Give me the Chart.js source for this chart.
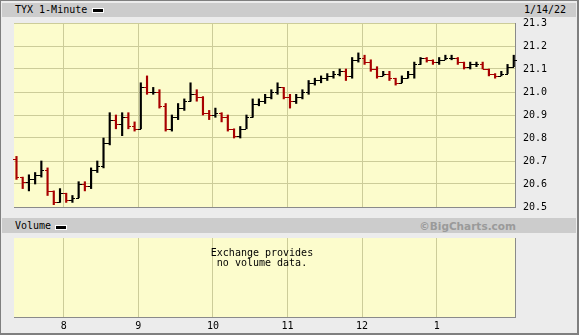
<!DOCTYPE html>
<html>
<head>
<meta charset="utf-8">
<script src="https://cdn.jsdelivr.net/npm/chart.js@4.4.1/dist/chart.umd.min.js"></script>
<style>
  body { margin: 0; background: #fff; }
  #wrap { position: relative; width: 579px; height: 335px; background: #ececec; overflow: hidden;
          font: 10px "DejaVu Sans Mono", monospace; color: #000; }
  #frame { position: absolute; left: 0; top: 0; width: 579px; height: 335px; box-sizing: border-box;
           border: 1px solid #7f7f7f; border-right-width: 2px; border-bottom-width: 2px; pointer-events: none; }
  .band { position: absolute; left: 2px; width: 574px; background: #cccccc; }
  .lbl { position: absolute; white-space: pre; line-height: 14px; }
  .key { position: absolute; width: 10px; height: 3px; background: #000; border: 1px solid #fff; }
  canvas { position: absolute; left: 0; }
  #novol { position: absolute; left: 162px; width: 200px; top: 248px; text-align: center; line-height: 10px; white-space: pre; }
</style>
</head>
<body>
<div id="wrap">
  <canvas id="price" width="579" height="221" style="top:0"></canvas>
  <canvas id="volume" width="579" height="99" style="top:236px"></canvas>

  <div class="band" style="top:3px;height:14px"></div>
  <div class="lbl" style="left:15px;top:3px">TYX 1-Minute</div>
  <div class="key" style="left:92px;top:8px"></div>
  <div class="lbl" style="left:524px;top:3px">1/14/22</div>

  <div class="band" style="top:218px;height:15px"></div>
  <div class="lbl" style="left:15px;top:219px">Volume</div>
  <div class="key" style="left:55px;top:225px"></div>
  <div class="lbl" style="right:63px;top:219px;font:bold 10.5px 'DejaVu Sans',sans-serif;color:#9a9a9a;line-height:14px">©BigCharts.com</div>

  <div id="novol">Exchange provides
no volume data.</div>
  <div id="frame"></div>
</div>
<script>
// minutes since midnight, one bar per 5 minutes
const times = [442,447,452,457,462,467,472,477,482,487,492,497,502,507,512,517,522,527,532,537,
  542,547,552,557,562,567,572,577,582,587,592,597,602,607,612,617,622,627,632,637,
  642,647,652,657,662,667,672,677,682,687,692,697,702,707,712,717,722,727,732,737,
  742,747,752,757,762,767,772,777,782,787,792,797,802,807,812,817,822,827,832,837,842];
const opens = [20.71,20.63,20.61,20.62,20.64,20.66,20.57,20.52,20.56,20.53,20.54,20.60,20.59,20.66,20.68,20.78,20.88,20.86,20.89,20.85,
  20.84,21.02,21.00,21.00,20.94,20.84,20.89,20.93,20.96,20.99,20.98,20.91,20.90,20.91,20.89,20.84,20.81,20.84,20.89,20.95,
  20.96,20.98,21.00,21.02,20.98,20.96,20.98,21.00,21.04,21.05,21.06,21.07,21.08,21.09,21.07,21.14,21.15,21.13,21.10,21.07,
  21.08,21.06,21.04,21.06,21.08,21.12,21.15,21.14,21.13,21.14,21.15,21.15,21.13,21.11,21.12,21.12,21.10,21.08,21.07,21.08,21.11];
const highs = [20.72,20.63,20.64,20.65,20.70,20.67,20.57,20.58,20.56,20.55,20.61,20.61,20.67,20.70,20.80,20.91,20.90,20.91,20.91,20.87,
  21.04,21.07,21.02,21.01,20.95,20.90,20.95,20.97,21.04,21.01,20.98,20.92,20.93,20.91,20.90,20.84,20.85,20.90,20.97,20.97,
  20.99,21.01,21.04,21.02,20.99,20.99,21.01,21.05,21.06,21.07,21.08,21.09,21.10,21.10,21.15,21.17,21.16,21.14,21.11,21.09,
  21.09,21.06,21.07,21.09,21.13,21.15,21.15,21.14,21.15,21.16,21.16,21.15,21.13,21.13,21.13,21.13,21.10,21.08,21.09,21.12,21.16];
const lows = [20.62,20.58,20.57,20.60,20.63,20.55,20.51,20.52,20.52,20.52,20.54,20.57,20.58,20.65,20.67,20.77,20.84,20.81,20.84,20.83,
  20.84,20.99,20.99,20.93,20.83,20.83,20.88,20.92,20.96,20.96,20.90,20.88,20.89,20.87,20.83,20.80,20.80,20.84,20.89,20.94,
  20.95,20.97,20.99,20.97,20.93,20.95,20.97,20.99,21.03,21.04,21.05,21.06,21.07,21.05,21.06,21.13,21.12,21.09,21.06,21.07,
  21.05,21.03,21.04,21.06,21.06,21.12,21.13,21.12,21.12,21.14,21.14,21.12,21.10,21.10,21.11,21.10,21.07,21.06,21.07,21.08,21.11];
const closes = [20.63,20.61,20.62,20.64,20.66,20.57,20.52,20.56,20.53,20.54,20.60,20.59,20.66,20.68,20.78,20.88,20.86,20.89,20.85,20.84,
  21.02,21.00,21.00,20.94,20.84,20.89,20.93,20.96,20.99,20.98,20.91,20.90,20.91,20.89,20.84,20.81,20.84,20.89,20.95,20.96,
  20.98,21.00,21.02,20.98,20.96,20.98,21.00,21.04,21.05,21.06,21.07,21.08,21.09,21.07,21.14,21.15,21.13,21.10,21.07,21.08,
  21.06,21.04,21.06,21.08,21.12,21.15,21.14,21.13,21.14,21.15,21.15,21.13,21.11,21.12,21.12,21.10,21.08,21.07,21.08,21.11,21.14];

const hourTicks = [480, 540, 600, 660, 720, 780];
const hourLabels = ['8', '9', '10', '11', '12', '1'];
const priceMin = 20.5, priceMax = 21.3;
const timeMin = 440, timeMax = 843;

const upColor = '#000000';
const downColor = '#a80000';
const gridColor = '#cccc99';
const edgeColor = '#8a8a8a';
const axisFont = { family: 'DejaVu Sans Mono', size: 10 };

const barColors = closes.map((c, i) => c >= opens[i] ? upColor : downColor);

const plotFill = {
  id: 'plotFill',
  beforeDraw(chart) {
    const a = chart.chartArea, ctx = chart.ctx;
    ctx.save();
    ctx.fillStyle = '#fcfccc';
    ctx.fillRect(a.left, a.top, a.right - a.left, a.bottom - a.top);
    ctx.restore();
  }
};

// open tick on the left, close tick on the right of each bar
const ohlcTicks = {
  id: 'ohlcTicks',
  afterDatasetsDraw(chart) {
    const xs = chart.scales.x, ys = chart.scales.y, ctx = chart.ctx;
    ctx.save();
    ctx.lineWidth = 1;
    times.forEach((t, i) => {
      const x = Math.round(xs.getPixelForValue(t));
      const yo = Math.round(ys.getPixelForValue(opens[i])) + 0.5;
      const yc = Math.round(ys.getPixelForValue(closes[i])) + 0.5;
      ctx.strokeStyle = barColors[i];
      ctx.beginPath();
      ctx.moveTo(x - 3, yo); ctx.lineTo(x, yo);
      ctx.moveTo(x, yc); ctx.lineTo(x + 3, yc);
      ctx.stroke();
    });
    ctx.restore();
  }
};

const timeAxis = (showLabels) => ({
  type: 'linear',
  min: timeMin,
  max: timeMax,
  offset: false,
  afterBuildTicks: s => { s.ticks = hourTicks.map(v => ({ value: v })); },
  afterFit: s => { s.height = showLabels ? 18 : 0; },
  grid: { color: gridColor, drawTicks: false, offset: false },
  border: { color: edgeColor },
  ticks: {
    display: showLabels,
    padding: 3,
    color: '#000',
    font: axisFont,
    maxRotation: 0,
    autoSkip: false,
    callback: (v, i) => hourLabels[i]
  }
});

new Chart(document.getElementById('price'), {
  type: 'bar',
  data: {
    datasets: [{
      data: times.map((t, i) => ({ x: t, y: [lows[i], highs[i]] })),
      backgroundColor: barColors,
      barThickness: 1.5,
      borderWidth: 0
    }]
  },
  options: {
    responsive: false,
    animation: false,
    layout: { autoPadding: false, padding: { left: 14, top: 23, right: 0, bottom: 0 } },
    plugins: { legend: { display: false }, tooltip: { enabled: false } },
    scales: {
      x: timeAxis(false),
      y: {
        position: 'right',
        min: priceMin,
        max: priceMax,
        afterFit: s => { s.width = 64; },
        grid: { color: gridColor, drawTicks: false },
        border: { color: edgeColor },
        ticks: { stepSize: 0.1, padding: 8, color: '#000', font: axisFont, callback: v => v.toFixed(1) }
      }
    }
  },
  plugins: [plotFill, ohlcTicks]
});

new Chart(document.getElementById('volume'), {
  type: 'bar',
  data: { datasets: [{ data: [] }] },
  options: {
    responsive: false,
    animation: false,
    layout: { autoPadding: false, padding: { left: 14, top: 2, right: 0, bottom: 0 } },
    plugins: { legend: { display: false }, tooltip: { enabled: false } },
    scales: {
      x: timeAxis(true),
      y: {
        position: 'right',
        min: 0,
        max: 1,
        afterFit: s => { s.width = 64; },
        grid: { display: false },
        border: { color: edgeColor },
        ticks: { display: false }
      }
    }
  },
  plugins: [plotFill]
});
</script>
</body>
</html>
